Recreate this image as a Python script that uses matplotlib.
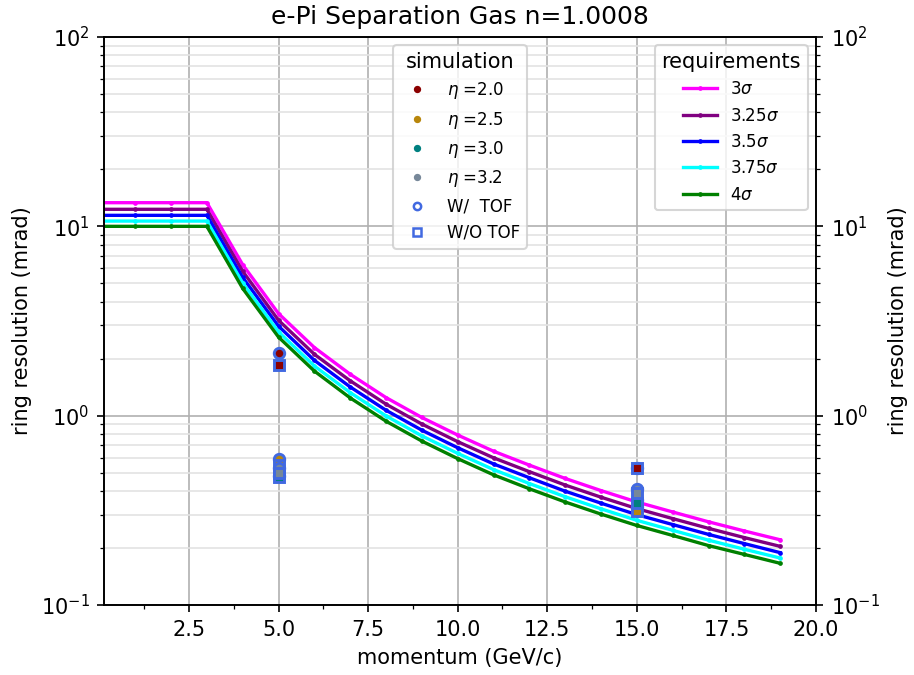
import matplotlib
matplotlib.use('Agg')
import matplotlib.pyplot as plt
import numpy as np
from matplotlib.ticker import MultipleLocator
from matplotlib.lines import Line2D

# momentum grid (GeV/c) of the requirement curves
momentum = [0, 1, 2, 3, 4, 5, 6, 7, 8, 9, 10, 11, 12, 13, 14, 15, 16, 17, 18, 19]

# required ring resolution (mrad) for each separation level
req_3 = [13.33, 13.33, 13.33, 13.33, 6.27, 3.46, 2.29, 1.655, 1.246, 0.978,
         0.79, 0.649, 0.548, 0.466, 0.402, 0.350, 0.310, 0.275, 0.246, 0.221]
req_325 = [12.30, 12.30, 12.30, 12.30, 5.79, 3.19, 2.11, 1.528, 1.150, 0.903,
           0.729, 0.599, 0.506, 0.430, 0.371, 0.323, 0.286, 0.254, 0.227, 0.204]
req_35 = [11.43, 11.43, 11.43, 11.43, 5.37, 2.97, 1.96, 1.418, 1.068, 0.838,
          0.677, 0.556, 0.470, 0.399, 0.345, 0.300, 0.266, 0.236, 0.211, 0.189]
req_375 = [10.66, 10.66, 10.66, 10.66, 5.02, 2.77, 1.83, 1.324, 0.997, 0.782,
           0.632, 0.519, 0.438, 0.373, 0.322, 0.280, 0.248, 0.220, 0.197, 0.177]
req_4 = [10.0, 10.0, 10.0, 10.0, 4.70, 2.60, 1.72, 1.241, 0.935, 0.734,
         0.593, 0.487, 0.411, 0.350, 0.302, 0.263, 0.233, 0.206, 0.185, 0.166]

req_labels = ['3$\\sigma$', '3.25$\\sigma$', '3.5$\\sigma$', '3.75$\\sigma$', '4$\\sigma$']
req_colors = ['magenta', 'purple', 'blue', 'cyan', 'green']

# simulation results
sim_p = [5, 15]
eta_labels = ['$\\eta$ =2.0', '$\\eta$ =2.5', '$\\eta$ =3.0', '$\\eta$ =3.2']
eta_colors = ['darkred', 'darkgoldenrod', 'teal', 'lightslategray']
res_tof = [[2.15, 0.53], [0.59, 0.33], [0.48, 0.36], [0.53, 0.41]]     # W/ TOF
res_notof = [[1.85, 0.53], [0.55, 0.315], [0.475, 0.345], [0.50, 0.39]]  # W/O TOF

fig = plt.figure(figsize=(914 / 150, 675 / 150), dpi=150)
ax = fig.add_subplot(111)
fig.subplots_adjust(left=0.1138, right=0.8928, top=0.9452, bottom=0.1037)

for vals, lab, col in zip([req_3, req_325, req_35, req_375, req_4], req_labels, req_colors):
    ax.plot(momentum, vals, '.-', color=col, lw=1.6, ms=2.5, label=lab)

for i in range(len(eta_labels)):
    ax.plot(sim_p, res_tof[i], 'o', color=eta_colors[i], mec='royalblue', ms=5, mew=1.4)
    ax.plot(sim_p, res_notof[i], 's', color=eta_colors[i], mec='royalblue', ms=5, mew=1.4)

ax.set_yscale('log')
ax.set_ylim(0.1, 100)
ax.set_xlim(0.13, 20)
ax.xaxis.set_minor_locator(MultipleLocator(1.25))
ax.grid(True, which='major', color='#b0b0b0', lw=0.8)
ax.grid(True, which='minor', axis='y', color='#e3e3e3', lw=0.8)
ax.set_xlabel('momentum (GeV/c)')
ax.set_ylabel('ring resolution (mrad)')
ax.set_title('e-Pi Separation Gas n=1.0008', fontsize=12)

leg1 = ax.legend(title='requirements', loc='upper right', fontsize=8, title_fontsize=10)
ax.add_artist(leg1)

handles = [Line2D([], [], ls='', marker='.', color=c, ms=5) for c in eta_colors]
handles.append(Line2D([], [], ls='', marker='o', mfc='none', mec='royalblue', ms=3.5, mew=1.2))
handles.append(Line2D([], [], ls='', marker='s', mfc='none', mec='royalblue', ms=3.5, mew=1.2))
ax.legend(handles, eta_labels + ['W/  TOF', 'W/O TOF'], title='simulation',
          loc='upper center', fontsize=8, title_fontsize=10)

ax2 = ax.twinx()
ax2.set_yscale('log')
ax2.set_ylim(0.1, 100)
ax2.set_ylabel('ring resolution (mrad)')

fig.savefig('out.png', dpi=150)
